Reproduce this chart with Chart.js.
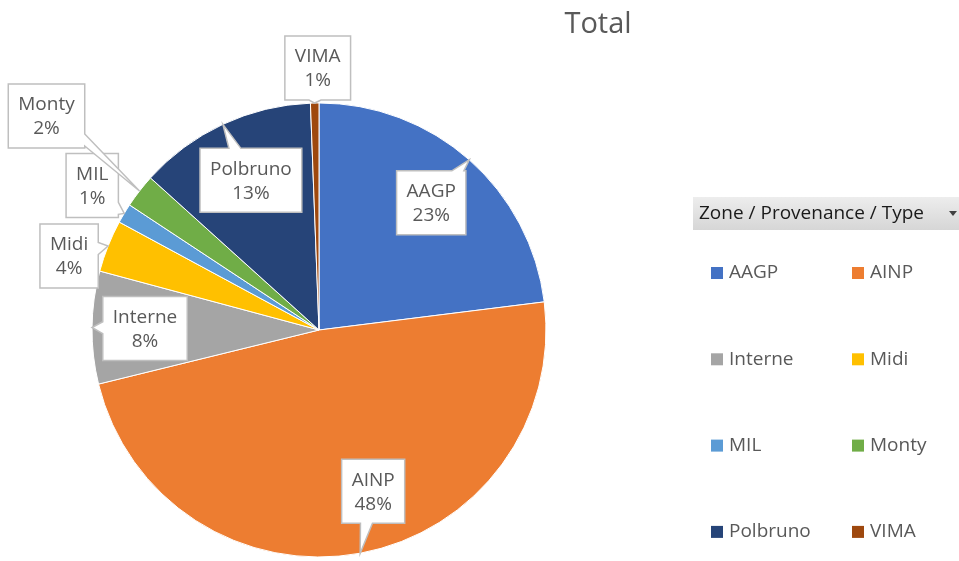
<!DOCTYPE html>
<html>
<head>
<meta charset="utf-8">
<script src="https://cdn.jsdelivr.net/npm/chart.js@4.4.1/dist/chart.umd.min.js"></script>
<style>
  html, body { margin: 0; padding: 0; background: #fff; }
  #wrap { width: 959px; height: 561px; }
</style>
</head>
<body>
<div id="wrap"><canvas id="pie" width="959" height="561"></canvas></div>
<script>
// data (percent of total)
var categories = ["AAGP", "AINP", "Interne", "Midi", "MIL", "Monty", "Polbruno", "VIMA"];
var shares = [23.0, 48.1, 8.0, 3.7, 1.4, 2.4, 12.7, 0.6];
var sliceColors = ["#4472C4", "#ED7D31", "#A5A5A5", "#FFC000", "#5B9BD5", "#70AD47", "#264478", "#9E480E"];
var chartTitle = "Total";
var legendTitle = "Zone / Provenance / Type";

var FONT = "'Open Sans', 'DejaVu Sans', sans-serif";
var TEXT_GREY = "#595959";

// where each callout box sits, relative to the outer middle of its slice
var calloutShift = [[-38, 43], [13, -62], [53, 1], [-39, 10], [-32, -28], [-93, -75], [28, 56], [3, -35]];

var calloutPlugin = {
    id: "callouts",
    afterDatasetsDraw: function(chart) {
        var ctx = chart.ctx;
        var meta = chart.getDatasetMeta(0);
        var values = chart.data.datasets[0].data;
        var total = values.reduce(function(a, b) { return a + b; }, 0);
        ctx.save();
        ctx.font = "19px " + FONT;
        meta.data.forEach(function(arc, i) {
            var p = arc.getProps(["x", "y", "startAngle", "endAngle", "outerRadius"], true);
            var mid = (p.startAngle + p.endAngle) / 2;
            var ax = p.x + Math.cos(mid) * p.outerRadius;
            var ay = p.y + Math.sin(mid) * p.outerRadius;
            var cx = ax + calloutShift[i][0];
            var cy = ay + calloutShift[i][1];
            var lines = [chart.data.labels[i], Math.round(values[i] / total * 100) + "%"];
            var tw = Math.max(ctx.measureText(lines[0]).width, ctx.measureText(lines[1]).width);
            var hw = Math.max(tw / 2 + 10, 26);
            var hh = 32;
            drawCallout(ctx, cx, cy, hw, hh, ax, ay);
            ctx.fillStyle = TEXT_GREY;
            ctx.textAlign = "center";
            ctx.textBaseline = "middle";
            ctx.fillText(lines[0], cx, cy - 11);
            ctx.fillText(lines[1], cx, cy + 13);
        });
        ctx.restore();
    }
};

function drawCallout(ctx, cx, cy, hw, hh, ax, ay) {
    var l = cx - hw, r = cx + hw, t = cy - hh, b = cy + hh;
    var dx = ax - cx, dy = ay - cy;
    var tx = dx === 0 ? Infinity : hw / Math.abs(dx);
    var ty = dy === 0 ? Infinity : hh / Math.abs(dy);
    var half = 6;
    var pts = [];
    if (tx < ty) {
        var yy = Math.min(Math.max(cy + dy * tx, t + half + 2), b - half - 2);
        if (dx > 0) {
            pts = [[l, t], [r, t], [r, yy - half], [ax, ay], [r, yy + half], [r, b], [l, b]];
        } else {
            pts = [[l, t], [r, t], [r, b], [l, b], [l, yy + half], [ax, ay], [l, yy - half]];
        }
    } else {
        var xx = Math.min(Math.max(cx + dx * ty, l + half + 2), r - half - 2);
        if (dy < 0) {
            pts = [[l, t], [xx - half, t], [ax, ay], [xx + half, t], [r, t], [r, b], [l, b]];
        } else {
            pts = [[l, t], [r, t], [r, b], [xx + half, b], [ax, ay], [xx - half, b], [l, b]];
        }
    }
    ctx.beginPath();
    ctx.moveTo(pts[0][0], pts[0][1]);
    for (var k = 1; k < pts.length; k++) ctx.lineTo(pts[k][0], pts[k][1]);
    ctx.closePath();
    ctx.fillStyle = "#fff";
    ctx.fill();
    ctx.lineWidth = 1.5;
    ctx.strokeStyle = "#BFBFBF";
    ctx.lineJoin = "miter";
    ctx.stroke();
}

var sidePlugin = {
    id: "sideStuff",
    afterDraw: function(chart) {
        var ctx = chart.ctx;
        ctx.save();
        // title
        ctx.font = "29px " + FONT;
        ctx.fillStyle = TEXT_GREY;
        ctx.textAlign = "center";
        ctx.textBaseline = "middle";
        ctx.fillText(chartTitle, 598, 25);

        // filter button above legend
        var g = ctx.createLinearGradient(0, 197, 0, 230);
        g.addColorStop(0, "#EDEDED");
        g.addColorStop(1, "#D6D6D6");
        ctx.fillStyle = g;
        ctx.fillRect(693, 197, 266, 33);
        ctx.font = "19px " + FONT;
        ctx.fillStyle = "#1a1a1a";
        ctx.textAlign = "left";
        ctx.fillText(legendTitle, 699, 214);
        ctx.fillStyle = "#404040";
        ctx.beginPath();
        ctx.moveTo(949, 211);
        ctx.lineTo(957, 211);
        ctx.lineTo(953, 216);
        ctx.closePath();
        ctx.fill();

        // two column legend
        var colors = chart.data.datasets[0].backgroundColor;
        chart.data.labels.forEach(function(lab, i) {
            var x = 711 + (i % 2) * 141;
            var y = 273 + Math.floor(i / 2) * 86.3;
            ctx.fillStyle = colors[i];
            ctx.fillRect(x, y - 6, 12, 12);
            ctx.fillStyle = TEXT_GREY;
            ctx.fillText(lab, x + 18, y);
        });
        ctx.restore();
    }
};

window.addEventListener("load", function() {
    var ctx = document.getElementById("pie").getContext("2d");
    new Chart(ctx, {
        type: "pie",
        data: {
            labels: categories,
            datasets: [{
                data: shares,
                backgroundColor: sliceColors,
                borderColor: "#fff",
                borderWidth: 1
            }]
        },
        options: {
            responsive: false,
            animation: false,
            radius: 227,
            layout: { padding: { left: 92, right: 413, top: 103, bottom: 4 } },
            plugins: {
                legend: { display: false },
                title: { display: false },
                tooltip: { enabled: false }
            }
        },
        plugins: [calloutPlugin, sidePlugin]
    });
});
</script>
</body>
</html>
